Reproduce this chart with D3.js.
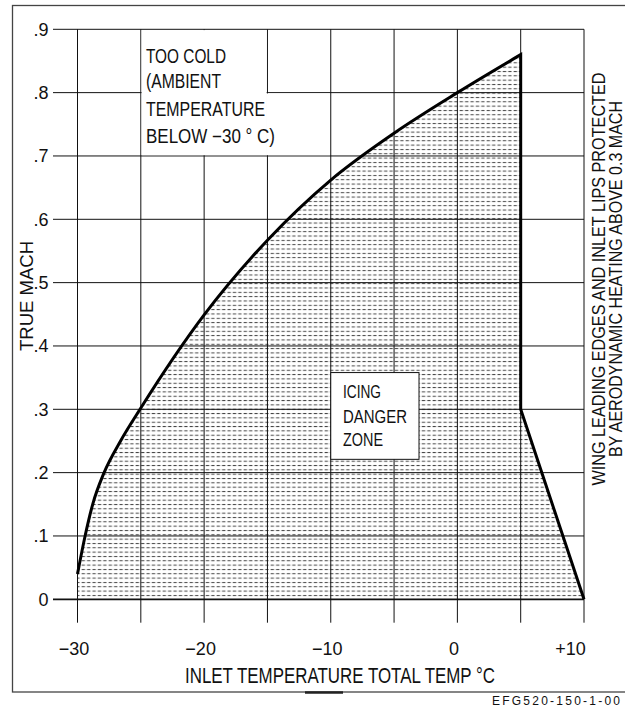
<!DOCTYPE html>
<html>
<head>
<meta charset="utf-8">
<script src="https://cdn.jsdelivr.net/npm/d3@7"></script>
<style>
  html, body { margin: 0; padding: 0; background: #fff; }
  svg { display: block; }
  text { font-family: "Liberation Sans", Arial, "DejaVu Sans", sans-serif; fill: #111; }
</style>
</head>
<body>
<svg id="chart" width="625" height="708"></svg>
<script>
// ---- data ----
const boundaryTemp = [-30, -29.4, -28.8, -27.9, -26.6, -25.0, -20.0, -15.0, -10.0, -5.0, 0.0, 5.0];
const boundaryMach = [0.04, 0.10, 0.15, 0.20, 0.25, 0.302, 0.449, 0.567, 0.662, 0.736, 0.80, 0.86];
const protectedTemp = [5, 10];       // vertical drop at +5 down to 0.3 Mach, then to +10 at 0
const protectedMach = [0.30, 0.0];
const xTickValues = [-30, -20, -10, 0, 10];
const xTickLabels = ["\u221230", "\u221220", "\u221210", "0", "+10"];
const xGridValues = [-30, -25, -20, -15, -10, -5, 0, 5, 10];
const yTickValues = [0, 0.1, 0.2, 0.3, 0.4, 0.5, 0.6, 0.7, 0.8, 0.9];
const yTickLabels = ["0", ".1", ".2", ".3", ".4", ".5", ".6", ".7", ".8", ".9"];
const coldLines = ["TOO COLD", "(AMBIENT", "TEMPERATURE", "BELOW \u221230 \u00b0 C)"];
const icingLines = ["ICING", "DANGER", "ZONE"];
const sideLines = ["WING LEADING EDGES AND INLET LIPS PROTECTED", "BY AERODYNAMIC HEATING ABOVE 0.3 MACH"];
const xTitle = "INLET TEMPERATURE TOTAL TEMP \u00b0C";
const yTitle = "TRUE MACH";
const drawingId = "EFG520-150-1-00";

// ---- layout ----
const svg = d3.select("#chart");
const x = d3.scaleLinear().domain([-30, 10]).range([77.5, 584]);
const y = d3.scaleLinear().domain([0, 0.9]).range([599.3, 29.3]);

// outer frame
svg.append("rect").attr("x", 12.5).attr("y", 5.5).attr("width", 625).attr("height", 686.5)
  .attr("fill", "none").attr("stroke", "#444").attr("stroke-width", 1.3);
svg.append("line").attr("x1", 305).attr("x2", 343).attr("y1", 692.5).attr("y2", 692.5)
  .attr("stroke", "#222").attr("stroke-width", 2.5);

// hatch pattern
const defs = svg.append("defs");
const pat = defs.append("pattern").attr("id", "hatch").attr("patternUnits", "userSpaceOnUse")
  .attr("width", 5.4).attr("height", 4.33);
pat.append("line").attr("x1", 0.6).attr("x2", 4.0).attr("y1", 2.2).attr("y2", 2.2)
  .attr("stroke", "#444").attr("stroke-width", 1);

const pts = boundaryTemp.map((t, i) => [x(t), y(boundaryMach[i])]);
const curvePath = d3.line().curve(d3.curveMonotoneX)(pts);
const tailPts = protectedTemp.map((t, i) => [x(t), y(protectedMach[i])]);
const tail = tailPts.map(p => "L" + p[0] + "," + p[1]).join("");
const fillPath = curvePath + tail + "L" + x(-30) + "," + y(0) + "Z";

svg.append("path").attr("d", fillPath).attr("fill", "url(#hatch)").attr("stroke", "none");

// grid
const grid = svg.append("g").attr("stroke", "#111").attr("stroke-width", 1);
grid.selectAll("line.h").data(yTickValues).join("line")
  .attr("x1", 53).attr("x2", x(10))
  .attr("y1", d => y(d)).attr("y2", d => y(d))
  .attr("stroke-width", d => d === 0 ? 1.8 : 1);
grid.selectAll("line.v").data(xGridValues).join("line")
  .attr("x1", d => x(d)).attr("x2", d => x(d))
  .attr("y1", y(0.9)).attr("y2", 622.7);

// white label areas (erase grid)
svg.append("rect").attr("x", x(-25) + 0.8).attr("y", y(0.9) + 0.8)
  .attr("width", x(-15) - x(-25) - 1.6).attr("height", y(0.7) - y(0.9) - 1.6).attr("fill", "#fff");
svg.append("rect").attr("x", x(-15) - 1).attr("y", y(0.8) + 0.8)
  .attr("width", x(-10) - x(-15) + 0.2).attr("height", y(0.7) - y(0.8) - 1.6).attr("fill", "#fff");

svg.append("rect").attr("x", x(-10)).attr("y", y(0.358))
  .attr("width", x(-3.03) - x(-10)).attr("height", y(0.221) - y(0.358))
  .attr("fill", "#fff").attr("stroke", "#111").attr("stroke-width", 1);

// bold boundary
svg.append("path").attr("d", curvePath + tail).attr("fill", "none")
  .attr("stroke", "#000").attr("stroke-width", 3).attr("stroke-linejoin", "miter");

// axes labels
const yAxis = d3.axisLeft(y).tickValues(yTickValues).tickSize(0).tickPadding(4.5)
  .tickFormat((d, i) => yTickLabels[i]);
const gy = svg.append("g").attr("transform", "translate(53,0)").call(yAxis);
gy.select(".domain").remove();
gy.selectAll("text").attr("font-size", 18).attr("font-family", null).attr("fill", "#111");

const xAxis = d3.axisBottom(x).tickValues(xTickValues).tickSize(0).tickPadding(42.6)
  .tickFormat((d, i) => xTickLabels[i]);
const gx = svg.append("g").attr("transform", "translate(0," + y(0) + ")").call(xAxis);
gx.select(".domain").remove();
gx.selectAll("text").attr("font-size", 18).attr("font-family", null).attr("fill", "#111")
  .attr("dx", d => d === 10 ? -14 : -4);

// titles
svg.append("text").attr("x", 185).attr("y", 683).attr("font-size", 21.5)
  .attr("textLength", 310).attr("lengthAdjust", "spacingAndGlyphs").text(xTitle);
svg.append("text").attr("transform", "translate(33,296) rotate(-90)").attr("text-anchor", "middle")
  .attr("font-size", 19).attr("textLength", 110).attr("lengthAdjust", "spacingAndGlyphs").text(yTitle);

// cold label
const coldLens = [80, 75, 119, 129];
const coldBase = [63.3, 88.3, 116, 142.7];
svg.selectAll("text.cold").data(coldLines).join("text").attr("class", "cold")
  .attr("x", 146).attr("y", (d, i) => coldBase[i]).attr("font-size", 19.5)
  .attr("textLength", (d, i) => coldLens[i]).attr("lengthAdjust", "spacingAndGlyphs").text(d => d);

// icing label
const icingLens = [38, 64, 40];
const icingBase = [398.3, 423.3, 446.3];
svg.selectAll("text.icing").data(icingLines).join("text").attr("class", "icing")
  .attr("x", 343).attr("y", (d, i) => icingBase[i]).attr("font-size", 18.5)
  .attr("textLength", (d, i) => icingLens[i]).attr("lengthAdjust", "spacingAndGlyphs").text(d => d);

// side note
const sideX = [605, 622];
const sideLens = [413, 356];
svg.selectAll("text.side").data(sideLines).join("text").attr("class", "side")
  .attr("transform", (d, i) => "translate(" + sideX[i] + ",279) rotate(-90)")
  .attr("text-anchor", "middle").attr("font-size", 18)
  .attr("textLength", (d, i) => sideLens[i]).attr("lengthAdjust", "spacingAndGlyphs").text(d => d);

// drawing id
svg.append("text").attr("x", 492).attr("y", 705).attr("font-size", 12)
  .attr("textLength", 128).attr("lengthAdjust", "spacing").text(drawingId);
</script>
</body>
</html>
